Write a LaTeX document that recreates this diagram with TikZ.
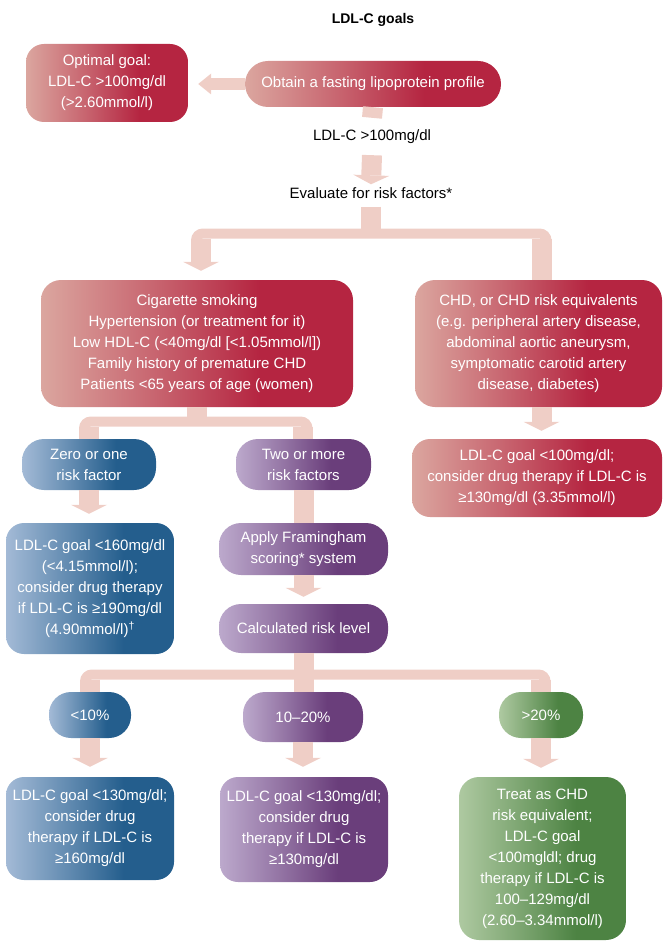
\documentclass[tikz,border=0pt]{standalone}
\usepackage{fontspec}
\setmainfont{Liberation Sans}
\usetikzlibrary{positioning, arrows.meta}

% box colours (light left side, dark right side)
\definecolor{redL}{HTML}{DBA69F}
\definecolor{redD}{HTML}{B52541}
\definecolor{blueL}{HTML}{A3BAD6}
\definecolor{blueD}{HTML}{245E8D}
\definecolor{purpleL}{HTML}{BCA9CC}
\definecolor{purpleD}{HTML}{6A3E7B}
\definecolor{greenL}{HTML}{AEC9A1}
\definecolor{greenD}{HTML}{4D8343}
\definecolor{linkpink}{HTML}{EFCEC6}

\pgfdeclarehorizontalshading{redshade}{100bp}{color(0bp)=(redL); color(25bp)=(redL); color(43bp)=(redL!50!redD); color(60bp)=(redD); color(100bp)=(redD)}
\pgfdeclarehorizontalshading{blueshade}{100bp}{color(0bp)=(blueL); color(25bp)=(blueL); color(43bp)=(blueL!50!blueD); color(60bp)=(blueD); color(100bp)=(blueD)}
\pgfdeclarehorizontalshading{purpleshade}{100bp}{color(0bp)=(purpleL); color(25bp)=(purpleL); color(43bp)=(purpleL!50!purpleD); color(60bp)=(purpleD); color(100bp)=(purpleD)}
\pgfdeclarehorizontalshading{greenshade}{100bp}{color(0bp)=(greenL); color(25bp)=(greenL); color(43bp)=(greenL!50!greenD); color(60bp)=(greenD); color(100bp)=(greenD)}

\begin{document}
\begin{tikzpicture}[x=1pt, y=-1pt,
    goalbox/.style={shade, rounded corners=18pt, text=white, align=center, inner sep=2pt, font=\fontsize{15}{21}\selectfont},
    plaintext/.style={inner sep=0pt, font=\fontsize{15}{18}\selectfont},
    link/.style={draw=linkpink, line width=20pt},
    linkbar/.style={draw=linkpink, line width=10pt, rounded corners=7pt},
    bighead/.tip={Triangle[width=36pt, length=9pt, line width=0pt]}]
        \useasboundingbox (0,0) rectangle (665,941);

        %%% Top part
            \node[font=\bfseries\fontsize{14}{17}\selectfont] (title) at (373,20) {LDL-C goals};

            \node[goalbox, shading=redshade, minimum width=162pt, minimum height=78pt] (optimal) at (107,83) {Optimal goal:\\LDL-C >100mg/dl\\(>2.60mmol/l)};
            \node[goalbox, shading=redshade, rounded corners=23pt, minimum width=256pt, minimum height=46pt] (obtain) at (373,84) {Obtain a fasting lipoprotein profile};

            \node[plaintext] (ldltxt) at (372,137) {LDL-C >100mg/dl};
            \node[plaintext] (eval) at (371,193) {Evaluate for risk factors*};

        %%% Risk factors and CHD
            \node[goalbox, shading=redshade, rounded corners=20pt, minimum width=312pt, minimum height=127pt] (risk) at (197,343.5) {Cigarette smoking\\Hypertension (or treatment for it)\\Low HDL-C (<40mg/dl [<1.05mmol/l])\\Family history of premature CHD\\Patients <65 years of age (women)};
            \node[goalbox, shading=redshade, rounded corners=20pt, minimum width=247pt, minimum height=127pt] (chd) at (538.5,343.5) {CHD, or CHD risk equivalents\\(e.g. peripheral artery disease,\\abdominal aortic aneurysm,\\symptomatic carotid artery\\disease, diabetes)};
            \node[goalbox, shading=redshade, minimum width=250pt, minimum height=78pt] (chdgoal) at (537,478) {LDL-C goal <100mg/dl;\\consider drug therapy if LDL-C is\\≥130mg/dl (3.35mmol/l)};

        %%% Number of risk factors
            \node[goalbox, shading=blueshade, rounded corners=22pt, minimum width=134pt, minimum height=51pt] (zero) at (89,464.5) {Zero or one\\risk factor};
            \node[goalbox, shading=purpleshade, rounded corners=22pt, minimum width=135pt, minimum height=51pt] (two) at (303.5,464.5) {Two or more\\risk factors};

            \node[goalbox, shading=blueshade, minimum width=168pt, minimum height=131pt] (ldl160) at (90,588.5) {LDL-C goal <160mg/dl\\(<4.15mmol/l);\\consider drug therapy\\if LDL-C is ≥190mg/dl\\(4.90mmol/l)\textsuperscript{†}};
            \node[goalbox, shading=purpleshade, rounded corners=22pt, minimum width=169pt, minimum height=52pt] (apply) at (303.5,549) {Apply Framingham\\scoring* system};
            \node[goalbox, shading=purpleshade, rounded corners=22pt, minimum width=169pt, minimum height=49pt] (calc) at (303.5,628.5) {Calculated risk level};

        %%% Risk levels
            \node[goalbox, shading=blueshade, rounded corners=22pt, minimum width=82pt, minimum height=46pt] (low) at (90,715) {<10\%};
            \node[goalbox, shading=purpleshade, rounded corners=22pt, minimum width=120pt, minimum height=50pt] (mid) at (303,717) {10–20\%};
            \node[goalbox, shading=greenshade, rounded corners=22pt, minimum width=84pt, minimum height=46pt] (high) at (541,715) {>20\%};

            \node[goalbox, shading=blueshade, minimum width=168pt, minimum height=103pt] (goalLow) at (90,828.5) {LDL-C goal <130mg/dl;\\consider drug\\therapy if LDL-C is\\≥160mg/dl};
            \node[goalbox, shading=purpleshade, minimum width=168pt, minimum height=105pt] (goalMid) at (304,829.5) {LDL-C goal <130mg/dl;\\consider drug\\therapy if LDL-C is\\≥130mg/dl};
            \node[goalbox, shading=greenshade, rounded corners=20pt, minimum width=167pt, minimum height=163pt] (goalHigh) at (542.5,858.5) {Treat as CHD\\risk equivalent;\\LDL-C goal\\<100mgldl; drug\\therapy if LDL-C is\\100–129mg/dl\\(2.60–3.34mmol/l)};

        %%% Connectors
            % fork junctions
            \coordinate (forkL) at (201,233.5);
            \coordinate (forkR) at (541.5,233.5);
            \coordinate (forkZ) at (89,421.5);
            \coordinate (forkT) at (302.5,421.5);
            \coordinate (forkLow) at (90,674.5);
            \coordinate (forkHigh) at (540.5,674.5);

            % obtain to optimal goal
            \draw[link, line width=12pt, -{Triangle[width=21pt, length=13pt, line width=0pt]}] (obtain.west) -- ([xshift=10pt]optimal.east |- obtain.west);

            % obtain down to evaluate
            \draw[link] (obtain.south) -- ([yshift=12pt]ldltxt.north);
            \draw[link, -bighead] ([yshift=-11pt]ldltxt.south) -- ([yshift=3pt]eval.north);

            % evaluate to risk factors and CHD
            \draw[link] ([yshift=-8pt]eval.south) -- (eval.south |- forkL);
            \draw[linkbar] ([xshift=-5pt, yshift=-15pt]forkL) |- ([xshift=5pt]forkR) -- ++(0,15);
            \draw[link, -bighead] ([yshift=-5pt]forkL) -- ([yshift=9pt]forkL |- risk.north);
            \draw[link] ([yshift=-5pt]forkR) -- (forkR |- chd.north);
            \draw[link, -bighead] (forkR |- chd.south) -- ([yshift=8pt]forkR |- chdgoal.north);

            % risk factors to zero/two
            \draw[link] (risk.south) -- (risk.south |- forkZ);
            \draw[linkbar] ([xshift=-5pt, yshift=-15pt]forkZ) |- ([xshift=5pt]forkT) -- ++(0,15);
            \draw[link] ([yshift=-5pt]forkZ) -- (forkZ |- zero.north);
            \draw[link] ([yshift=-5pt]forkT) -- (forkT |- two.north);

            \draw[link, -bighead] (zero.south) -- ([yshift=9pt]zero.south |- ldl160.north);
            \draw[link] (two.south) -- (two.south |- apply.north);
            \draw[link, -bighead] (apply.south) -- ([yshift=7pt]calc.north);

            % calculated risk to levels
            \draw[link] (calc.south) -- (calc.south |- mid.north);
            \draw[linkbar] ([xshift=-5pt, yshift=-15pt]forkLow) |- ([xshift=5pt]forkHigh) -- ++(0,15);
            \draw[link] ([yshift=-5pt]forkLow) -- (forkLow |- low.north);
            \draw[link] ([yshift=-5pt]forkHigh) -- (forkHigh |- high.north);

            \draw[link, -bighead] (low.south) -- ([yshift=10pt]low.south |- goalLow.north);
            \draw[link, -bighead] (mid.south) -- ([yshift=10pt]mid.south |- goalMid.north);
            \draw[link, -bighead] (high.south) -- ([yshift=9pt]high.south |- goalHigh.north);
\end{tikzpicture}
\end{document}
